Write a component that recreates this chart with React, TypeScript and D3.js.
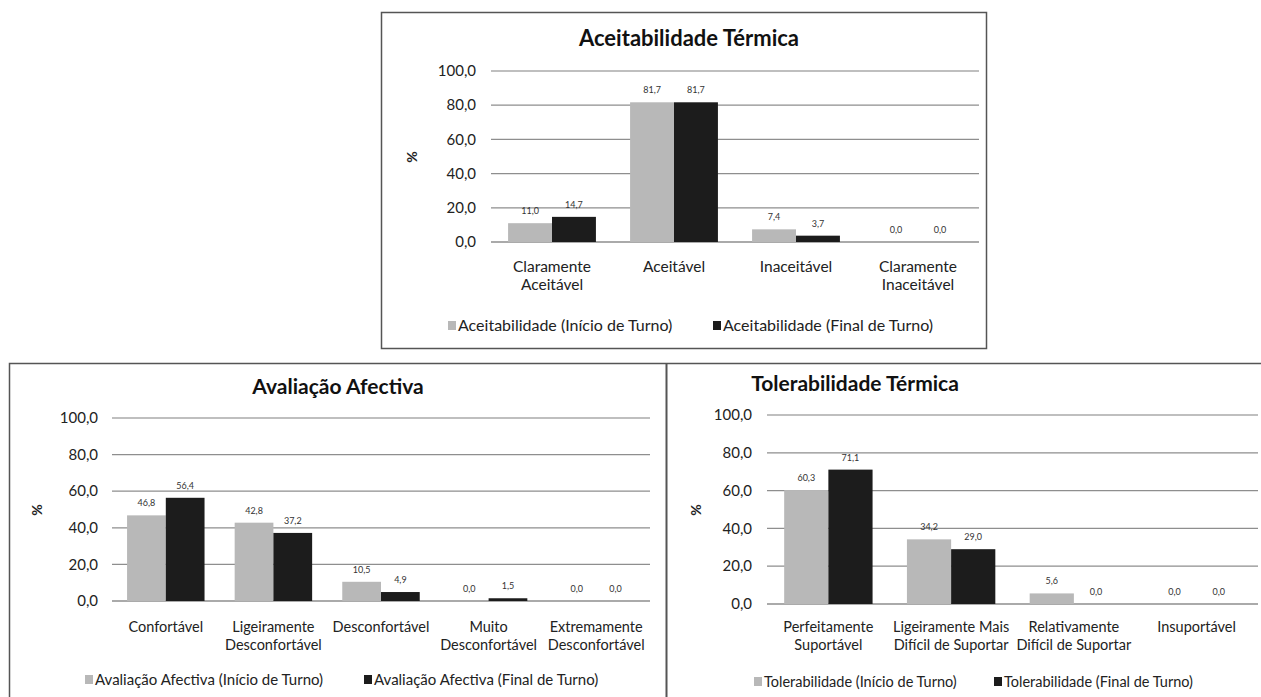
import React from "react";
import * as d3 from "d3";

// ---------- DATA ----------
const seriesKeys = ["inicio", "final"];

const aceitCategories = [["Claramente", "Aceitável"], ["Aceitável"], ["Inaceitável"], ["Claramente", "Inaceitável"]];
const aceitInicio = [11.0, 81.7, 7.4, 0.0];
const aceitFinal = [14.7, 81.7, 3.7, 0.0];
const aceitLegend = ["Aceitabilidade (Início de Turno)", "Aceitabilidade (Final de Turno)"];

const afectCategories = [["Confortável"], ["Ligeiramente", "Desconfortável"], ["Desconfortável"], ["Muito", "Desconfortável"], ["Extremamente", "Desconfortável"]];
const afectInicio = [46.8, 42.8, 10.5, 0.0, 0.0];
const afectFinal = [56.4, 37.2, 4.9, 1.5, 0.0];
const afectLegend = ["Avaliação Afectiva (Início de Turno)", "Avaliação Afectiva (Final de Turno)"];

const tolerCategories = [["Perfeitamente", "Suportável"], ["Ligeiramente Mais", "Difícil de Suportar"], ["Relativamente", "Difícil de Suportar"], ["Insuportável"]];
const tolerInicio = [60.3, 34.2, 5.6, 0.0];
const tolerFinal = [71.1, 29.0, 0.0, 0.0];
const tolerLegend = ["Tolerabilidade (Início de Turno)", "Tolerabilidade (Final de Turno)"];

const yTicks = [0, 20, 40, 60, 80, 100];

// ---------- STYLE ----------
const FONT = "Lato, 'Open Sans', sans-serif";
const GRAY = "#b8b8b8";
const BLACK = "#1c1c1c";
const GRID = "#8e8e8e";
const BORDER = "#555";

const fmt = (v: number) => d3.format(".1f")(v).replace(".", ",");

type Layout = {
  title: string;
  titleX: number;
  titleY: number;
  titleSize: number;
  left: number;
  right: number;
  top: number;
  bottom: number;
  tickX: number;
  pctX: number;
  pctY: number;
  catY: number;
  catSize: number;
  legendY: number;
  legendX: [number, number];
  legendSize: number;
};

function BarChart({ layout, categories, inicio, final, legend }: { layout: Layout; categories: string[][]; inicio: number[]; final: number[]; legend: string[] }) {
  const L = layout;
  const ids = categories.map((c) => c.join(" "));
  const x = d3.scaleBand().domain(ids).range([L.left, L.right]).paddingInner(0.28).paddingOuter(0.14);
  const xi = d3.scaleBand().domain(seriesKeys).range([0, x.bandwidth()]);
  const y = d3.scaleLinear().domain([0, 100]).range([L.bottom, L.top]);
  const series = [inicio, final];
  const colors = [GRAY, BLACK];
  return (
    <g fontFamily={FONT}>
      <text x={L.titleX} y={L.titleY} textAnchor="middle" fontSize={L.titleSize} fontWeight="bold" fill="#111">{L.title}</text>
      {yTicks.map((t) => (
        <g key={t}>
          <line x1={L.left} x2={L.right} y1={y(t)} y2={y(t)} stroke={t === 100 ? "#aaa" : GRID} strokeWidth={1.3} />
          <text x={L.tickX} y={y(t)} dy="0.35em" textAnchor="end" fontSize={15} fill="#222">{fmt(t)}</text>
        </g>
      ))}
      <text transform={`translate(${L.pctX},${L.pctY}) rotate(-90)`} textAnchor="middle" fontSize={14} fontWeight="bold" fill="#222">%</text>
      {ids.map((id, i) => (
        <g key={id}>
          {series.map((s, k) => {
            const bx = (x(id) as number) + (xi(seriesKeys[k]) as number);
            const v = s[i];
            return (
              <g key={k}>
                <rect x={bx} y={y(v)} width={xi.bandwidth()} height={y(0) - y(v)} fill={colors[k]} />
                <text x={bx + xi.bandwidth() / 2} y={y(v) - 9} textAnchor="middle" fontSize={9} fill="#333">{fmt(v)}</text>
              </g>
            );
          })}
          <text x={(x(id) as number) + x.bandwidth() / 2} y={L.catY} textAnchor="middle" fontSize={L.catSize} fill="#222">
            {categories[i].map((ln, j) => (
              <tspan key={j} x={(x(id) as number) + x.bandwidth() / 2} dy={j === 0 ? 0 : 18}>{ln}</tspan>
            ))}
          </text>
        </g>
      ))}
      {legend.map((lab, k) => (
        <g key={lab}>
          <rect x={L.legendX[k]} y={L.legendY - 10} width={8} height={9} fill={colors[k]} />
          <text x={L.legendX[k] + 10} y={L.legendY} fontSize={L.legendSize} fill="#222">{lab}</text>
        </g>
      ))}
    </g>
  );
}

const topLayout: Layout = {
  title: "Aceitabilidade Térmica", titleX: 689, titleY: 46, titleSize: 22,
  left: 491, right: 979, top: 71, bottom: 242, tickX: 476,
  pctX: 417, pctY: 157, catY: 272, catSize: 15.5, legendY: 331, legendX: [448, 713], legendSize: 16,
};
const leftLayout: Layout = {
  title: "Avaliação Afectiva", titleX: 338, titleY: 394, titleSize: 21,
  left: 112, right: 650, top: 418, bottom: 601, tickX: 98,
  pctX: 42, pctY: 510, catY: 632, catSize: 14.5, legendY: 685, legendX: [85, 364], legendSize: 15,
};
const rightLayout: Layout = {
  title: "Tolerabilidade Térmica", titleX: 855, titleY: 391, titleSize: 21,
  left: 767, right: 1258, top: 415, bottom: 604, tickX: 752,
  pctX: 701, pctY: 510, catY: 632, catSize: 14.5, legendY: 687, legendX: [754, 994], legendSize: 14.5,
};

export default function App() {
  return (
    <div style={{ position: "absolute", left: 0, top: 0 }}>
      <svg width={1261} height={697} style={{ display: "block", background: "#fff" }}>
        <rect x={381.5} y={12.5} width={605} height={336} fill="none" stroke={BORDER} strokeWidth={1.5} />
        <path d={`M9.5,697 V363.5 H1261`} fill="none" stroke={BORDER} strokeWidth={1.5} />
        <line x1={666.5} x2={666.5} y1={363} y2={697} stroke={BORDER} strokeWidth={2} />
        <BarChart layout={topLayout} categories={aceitCategories} inicio={aceitInicio} final={aceitFinal} legend={aceitLegend} />
        <BarChart layout={leftLayout} categories={afectCategories} inicio={afectInicio} final={afectFinal} legend={afectLegend} />
        <BarChart layout={rightLayout} categories={tolerCategories} inicio={tolerInicio} final={tolerFinal} legend={tolerLegend} />
      </svg>
    </div>
  );
}
